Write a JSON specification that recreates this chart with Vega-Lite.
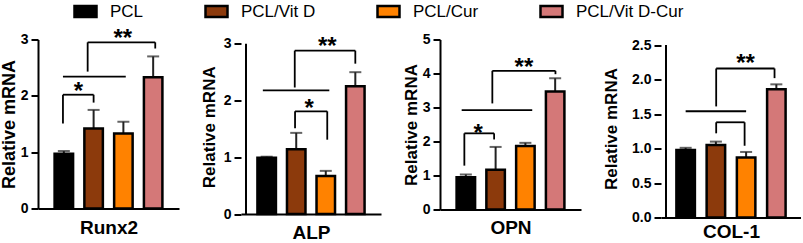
{
 "$schema": "https://vega.github.io/schema/vega-lite/v6.json",
 "padding": {"left": 0, "top": -1.5, "right": 0, "bottom": 0},
 "spacing": 21,
 "config": {
  "view": {"stroke": null},
  "font": "Liberation Sans",
  "axis": {"domainColor": "black", "domainWidth": 2, "tickColor": "black", "tickWidth": 2, "tickSize": 7, "labelFont": "Liberation Sans", "labelFontWeight": "bold", "labelFontSize": 14, "labelColor": "black", "labelPadding": 3, "titleFont": "Liberation Sans", "titleFontWeight": "bold", "titleColor": "black", "grid": false},
  "axisY": {"titleFontSize": 17},
  "axisX": {"titleFontSize": 19},
  "legend": {"labelFont": "Liberation Sans", "labelFontSize": 17, "labelColor": "black", "symbolType": "M-1,-0.5H1V0.5H-1Z", "symbolSize": 484, "symbolStrokeColor": "black", "symbolStrokeWidth": 2.5, "labelOffset": 12, "columnPadding": 56, "title": null}
 },
 "datasets": {
  "bars": [
   {"gene": "Runx2", "group": "PCL", "pos": 0, "mean": 0.97, "hi": 1.02},
   {"gene": "Runx2", "group": "PCL/Vit D", "pos": 1, "mean": 1.42, "hi": 1.75},
   {"gene": "Runx2", "group": "PCL/Cur", "pos": 2, "mean": 1.33, "hi": 1.54},
   {"gene": "Runx2", "group": "PCL/Vit D-Cur", "pos": 3, "mean": 2.33, "hi": 2.70},
   {"gene": "ALP", "group": "PCL", "pos": 0, "mean": 0.99, "hi": 1.01},
   {"gene": "ALP", "group": "PCL/Vit D", "pos": 1, "mean": 1.14, "hi": 1.43},
   {"gene": "ALP", "group": "PCL/Cur", "pos": 2, "mean": 0.67, "hi": 0.76},
   {"gene": "ALP", "group": "PCL/Vit D-Cur", "pos": 3, "mean": 2.25, "hi": 2.50},
   {"gene": "OPN", "group": "PCL", "pos": 0, "mean": 0.95, "hi": 1.03},
   {"gene": "OPN", "group": "PCL/Vit D", "pos": 1, "mean": 1.17, "hi": 1.84},
   {"gene": "OPN", "group": "PCL/Cur", "pos": 2, "mean": 1.87, "hi": 1.96},
   {"gene": "OPN", "group": "PCL/Vit D-Cur", "pos": 3, "mean": 3.47, "hi": 3.86},
   {"gene": "COL-1", "group": "PCL", "pos": 0, "mean": 0.98, "hi": 1.01},
   {"gene": "COL-1", "group": "PCL/Vit D", "pos": 1, "mean": 1.05, "hi": 1.10},
   {"gene": "COL-1", "group": "PCL/Cur", "pos": 2, "mean": 0.87, "hi": 0.95},
   {"gene": "COL-1", "group": "PCL/Vit D-Cur", "pos": 3, "mean": 1.86, "hi": 1.93}
  ],
  "brackets": [
   {"gene": "Runx2", "x": -0.03, "x2": -0.03, "y": 1.51, "y2": 2.02},
   {"gene": "Runx2", "x": -0.03, "x2": 1.0, "y": 2.02, "y2": 2.02},
   {"gene": "Runx2", "x": 1.0, "x2": 1.0, "y": 2.02, "y2": 1.88},
   {"gene": "Runx2", "x": -0.03, "x2": 2.08, "y": 2.34, "y2": 2.34},
   {"gene": "Runx2", "x": 0.8, "x2": 0.8, "y": 2.43, "y2": 2.95},
   {"gene": "Runx2", "x": 0.8, "x2": 3.07, "y": 2.95, "y2": 2.95},
   {"gene": "Runx2", "x": 3.07, "x2": 3.07, "y": 2.95, "y2": 2.84},
   {"gene": "ALP", "x": -0.13, "x2": 2.12, "y": 2.18, "y2": 2.18},
   {"gene": "ALP", "x": 0.95, "x2": 0.95, "y": 2.23, "y2": 2.88},
   {"gene": "ALP", "x": 0.95, "x2": 3.0, "y": 2.88, "y2": 2.88},
   {"gene": "ALP", "x": 3.0, "x2": 3.0, "y": 2.88, "y2": 2.65},
   {"gene": "ALP", "x": 0.96, "x2": 0.96, "y": 1.51, "y2": 1.81},
   {"gene": "ALP", "x": 0.96, "x2": 2.05, "y": 1.81, "y2": 1.81},
   {"gene": "ALP", "x": 2.05, "x2": 2.05, "y": 1.81, "y2": 1.31},
   {"gene": "OPN", "x": -0.05, "x2": -0.05, "y": 1.29, "y2": 2.24},
   {"gene": "OPN", "x": -0.05, "x2": 0.95, "y": 2.24, "y2": 2.24},
   {"gene": "OPN", "x": 0.95, "x2": 0.95, "y": 2.24, "y2": 2.06},
   {"gene": "OPN", "x": -0.14, "x2": 2.23, "y": 2.92, "y2": 2.92},
   {"gene": "OPN", "x": 0.89, "x2": 0.89, "y": 3.12, "y2": 4.08},
   {"gene": "OPN", "x": 0.89, "x2": 3.01, "y": 4.08, "y2": 4.08},
   {"gene": "OPN", "x": 3.01, "x2": 3.01, "y": 4.08, "y2": 3.98},
   {"gene": "COL-1", "x": 0.0, "x2": 2.0, "y": 1.54, "y2": 1.54},
   {"gene": "COL-1", "x": 1.01, "x2": 1.01, "y": 1.61, "y2": 2.16},
   {"gene": "COL-1", "x": 1.01, "x2": 2.94, "y": 2.16, "y2": 2.16},
   {"gene": "COL-1", "x": 2.94, "x2": 2.94, "y": 2.16, "y2": 2.02},
   {"gene": "COL-1", "x": 1.01, "x2": 1.01, "y": 1.22, "y2": 1.38},
   {"gene": "COL-1", "x": 1.01, "x2": 1.95, "y": 1.38, "y2": 1.38},
   {"gene": "COL-1", "x": 1.95, "x2": 1.95, "y": 1.38, "y2": 1.04}
  ],
  "stars": [
   {"gene": "Runx2", "x": 0.49, "y": 2.18, "label": "*"},
   {"gene": "Runx2", "x": 1.98, "y": 3.12, "label": "**"},
   {"gene": "ALP", "x": 1.44, "y": 1.95, "label": "*"},
   {"gene": "ALP", "x": 2.05, "y": 3.05, "label": "**"},
   {"gene": "OPN", "x": 0.41, "y": 2.39, "label": "*"},
   {"gene": "OPN", "x": 1.95, "y": 4.35, "label": "**"},
   {"gene": "COL-1", "x": 1.98, "y": 2.31, "label": "**"}
  ]
 },
 "hconcat": [
  {
   "width": 141, "height": 169,
   "layer": [
    {"data": {"name": "bars"}, "transform": [{"filter": "datum.gene === 'Runx2'"}],
     "mark": {"type": "rule", "color": "#222", "strokeWidth": 2},
     "encoding": {
      "x": {"field": "pos", "type": "quantitative", "scale": {"domain": [-0.7, 3.7], "nice": false, "zero": false}, "axis": {"labels": false, "ticks": false, "title": "Runx2", "titlePadding": 9.5}},
      "y": {"field": "mean", "type": "quantitative", "scale": {"domain": [0, 3], "nice": false}, "axis": {"values": [0, 1, 2, 3], "title": "Relative mRNA", "titlePadding": 2, "titleFontSize": 18}},
      "y2": {"field": "hi"}}},
    {"data": {"name": "bars"}, "transform": [{"filter": "datum.gene === 'Runx2'"}],
     "mark": {"type": "tick", "orient": "horizontal", "color": "#222", "size": 12, "thickness": 2},
     "encoding": {
      "x": {"field": "pos", "type": "quantitative", "scale": {"domain": [-0.7, 3.7], "nice": false, "zero": false}, "axis": {"labels": false, "ticks": false, "title": "Runx2", "titlePadding": 9.5}},
      "y": {"field": "hi", "type": "quantitative", "scale": {"domain": [0, 3], "nice": false}, "axis": {"values": [0, 1, 2, 3], "title": "Relative mRNA", "titlePadding": 2, "titleFontSize": 18}}}},
    {"data": {"name": "bars"}, "transform": [{"filter": "datum.gene === 'Runx2'"}],
     "mark": {"type": "bar", "orient": "vertical", "size": 18.5, "stroke": "black", "strokeWidth": 2.5},
     "encoding": {
      "x": {"field": "pos", "type": "quantitative", "scale": {"domain": [-0.7, 3.7], "nice": false, "zero": false}, "axis": {"labels": false, "ticks": false, "title": "Runx2", "titlePadding": 9.5}},
      "y": {"field": "mean", "type": "quantitative", "scale": {"domain": [0, 3], "nice": false}, "axis": {"values": [0, 1, 2, 3], "title": "Relative mRNA", "titlePadding": 2, "titleFontSize": 18}},
      "color": {"field": "group", "type": "nominal", "scale": {"domain": ["PCL", "PCL/Vit D", "PCL/Cur", "PCL/Vit D-Cur"], "range": ["#000000", "#8C3A0C", "#FF8200", "#D47878"]}, "legend": {"orient": "none", "direction": "horizontal", "legendX": 35, "legendY": -40.5}}}},
    {"data": {"name": "brackets"}, "transform": [{"filter": "datum.gene === 'Runx2'"}],
     "mark": {"type": "rule", "color": "black", "strokeWidth": 1.8},
     "encoding": {
      "x": {"field": "x", "type": "quantitative", "scale": {"domain": [-0.7, 3.7], "nice": false, "zero": false}, "axis": {"labels": false, "ticks": false, "title": "Runx2", "titlePadding": 9.5}},
      "x2": {"field": "x2"},
      "y": {"field": "y", "type": "quantitative", "scale": {"domain": [0, 3], "nice": false}, "axis": {"values": [0, 1, 2, 3], "title": "Relative mRNA", "titlePadding": 2, "titleFontSize": 18}},
      "y2": {"field": "y2"}}},
    {"data": {"name": "stars"}, "transform": [{"filter": "datum.gene === 'Runx2'"}],
     "mark": {"type": "text", "fontSize": 24, "fontWeight": "bold", "baseline": "middle", "align": "center", "dy": 6, "color": "black"},
     "encoding": {
      "x": {"field": "x", "type": "quantitative", "scale": {"domain": [-0.7, 3.7], "nice": false, "zero": false}, "axis": {"labels": false, "ticks": false, "title": "Runx2", "titlePadding": 9.5}},
      "y": {"field": "y", "type": "quantitative", "scale": {"domain": [0, 3], "nice": false}, "axis": {"values": [0, 1, 2, 3], "title": "Relative mRNA", "titlePadding": 2, "titleFontSize": 18}},
      "text": {"field": "label"}}}
   ]
  },
  {
   "width": 140, "height": 174.5,
   "layer": [
    {"data": {"values": [{}]},
     "mark": {"type": "rule", "color": "black", "strokeWidth": 2},
     "encoding": {
      "x": {"datum": -0.7, "type": "quantitative", "scale": {"domain": [-0.7, 3.7], "nice": false, "zero": false}, "axis": {"labels": false, "ticks": false, "title": "ALP", "titlePadding": 9.5}},
      "y": {"datum": 0, "type": "quantitative", "scale": {"domain": [0, 3.076], "nice": false}, "axis": {"values": [0, 1, 2, 3], "domain": false, "title": "Relative mRNA", "titlePadding": 5}},
      "y2": {"datum": 3}}},
    {"data": {"name": "bars"}, "transform": [{"filter": "datum.gene === 'ALP'"}],
     "mark": {"type": "rule", "color": "#222", "strokeWidth": 2},
     "encoding": {
      "x": {"field": "pos", "type": "quantitative", "scale": {"domain": [-0.7, 3.7], "nice": false, "zero": false}, "axis": {"labels": false, "ticks": false, "title": "ALP", "titlePadding": 9.5}},
      "y": {"field": "mean", "type": "quantitative", "scale": {"domain": [0, 3.076], "nice": false}, "axis": {"values": [0, 1, 2, 3], "domain": false, "title": "Relative mRNA", "titlePadding": 5}},
      "y2": {"field": "hi"}}},
    {"data": {"name": "bars"}, "transform": [{"filter": "datum.gene === 'ALP'"}],
     "mark": {"type": "tick", "orient": "horizontal", "color": "#222", "size": 12, "thickness": 2},
     "encoding": {
      "x": {"field": "pos", "type": "quantitative", "scale": {"domain": [-0.7, 3.7], "nice": false, "zero": false}, "axis": {"labels": false, "ticks": false, "title": "ALP", "titlePadding": 9.5}},
      "y": {"field": "hi", "type": "quantitative", "scale": {"domain": [0, 3.076], "nice": false}, "axis": {"values": [0, 1, 2, 3], "domain": false, "title": "Relative mRNA", "titlePadding": 5}}}},
    {"data": {"name": "bars"}, "transform": [{"filter": "datum.gene === 'ALP'"}],
     "mark": {"type": "bar", "orient": "vertical", "size": 18.5, "stroke": "black", "strokeWidth": 2.5},
     "encoding": {
      "x": {"field": "pos", "type": "quantitative", "scale": {"domain": [-0.7, 3.7], "nice": false, "zero": false}, "axis": {"labels": false, "ticks": false, "title": "ALP", "titlePadding": 9.5}},
      "y": {"field": "mean", "type": "quantitative", "scale": {"domain": [0, 3.076], "nice": false}, "axis": {"values": [0, 1, 2, 3], "domain": false, "title": "Relative mRNA", "titlePadding": 5}},
      "color": {"field": "group", "type": "nominal", "scale": {"domain": ["PCL", "PCL/Vit D", "PCL/Cur", "PCL/Vit D-Cur"], "range": ["#000000", "#8C3A0C", "#FF8200", "#D47878"]}, "legend": {"orient": "none", "direction": "horizontal", "legendX": 35, "legendY": -40.5}}}},
    {"data": {"name": "brackets"}, "transform": [{"filter": "datum.gene === 'ALP'"}],
     "mark": {"type": "rule", "color": "black", "strokeWidth": 1.8},
     "encoding": {
      "x": {"field": "x", "type": "quantitative", "scale": {"domain": [-0.7, 3.7], "nice": false, "zero": false}, "axis": {"labels": false, "ticks": false, "title": "ALP", "titlePadding": 9.5}},
      "x2": {"field": "x2"},
      "y": {"field": "y", "type": "quantitative", "scale": {"domain": [0, 3.076], "nice": false}, "axis": {"values": [0, 1, 2, 3], "domain": false, "title": "Relative mRNA", "titlePadding": 5}},
      "y2": {"field": "y2"}}},
    {"data": {"name": "stars"}, "transform": [{"filter": "datum.gene === 'ALP'"}],
     "mark": {"type": "text", "fontSize": 24, "fontWeight": "bold", "baseline": "middle", "align": "center", "dy": 6, "color": "black"},
     "encoding": {
      "x": {"field": "x", "type": "quantitative", "scale": {"domain": [-0.7, 3.7], "nice": false, "zero": false}, "axis": {"labels": false, "ticks": false, "title": "ALP", "titlePadding": 9.5}},
      "y": {"field": "y", "type": "quantitative", "scale": {"domain": [0, 3.076], "nice": false}, "axis": {"values": [0, 1, 2, 3], "domain": false, "title": "Relative mRNA", "titlePadding": 5}},
      "text": {"field": "label"}}}
   ]
  },
  {
   "width": 141, "height": 170,
   "layer": [
    {"data": {"name": "bars"}, "transform": [{"filter": "datum.gene === 'OPN'"}],
     "mark": {"type": "rule", "color": "#222", "strokeWidth": 2},
     "encoding": {
      "x": {"field": "pos", "type": "quantitative", "scale": {"domain": [-0.7, 3.7], "nice": false, "zero": false}, "axis": {"labels": false, "ticks": false, "title": "OPN", "titlePadding": 8.5}},
      "y": {"field": "mean", "type": "quantitative", "scale": {"domain": [0, 5], "nice": false}, "axis": {"values": [0, 1, 2, 3, 4, 5], "title": "Relative mRNA", "titlePadding": 2}},
      "y2": {"field": "hi"}}},
    {"data": {"name": "bars"}, "transform": [{"filter": "datum.gene === 'OPN'"}],
     "mark": {"type": "tick", "orient": "horizontal", "color": "#222", "size": 12, "thickness": 2},
     "encoding": {
      "x": {"field": "pos", "type": "quantitative", "scale": {"domain": [-0.7, 3.7], "nice": false, "zero": false}, "axis": {"labels": false, "ticks": false, "title": "OPN", "titlePadding": 8.5}},
      "y": {"field": "hi", "type": "quantitative", "scale": {"domain": [0, 5], "nice": false}, "axis": {"values": [0, 1, 2, 3, 4, 5], "title": "Relative mRNA", "titlePadding": 2}}}},
    {"data": {"name": "bars"}, "transform": [{"filter": "datum.gene === 'OPN'"}],
     "mark": {"type": "bar", "orient": "vertical", "size": 18.5, "stroke": "black", "strokeWidth": 2.5},
     "encoding": {
      "x": {"field": "pos", "type": "quantitative", "scale": {"domain": [-0.7, 3.7], "nice": false, "zero": false}, "axis": {"labels": false, "ticks": false, "title": "OPN", "titlePadding": 8.5}},
      "y": {"field": "mean", "type": "quantitative", "scale": {"domain": [0, 5], "nice": false}, "axis": {"values": [0, 1, 2, 3, 4, 5], "title": "Relative mRNA", "titlePadding": 2}},
      "color": {"field": "group", "type": "nominal", "scale": {"domain": ["PCL", "PCL/Vit D", "PCL/Cur", "PCL/Vit D-Cur"], "range": ["#000000", "#8C3A0C", "#FF8200", "#D47878"]}, "legend": {"orient": "none", "direction": "horizontal", "legendX": 35, "legendY": -40.5}}}},
    {"data": {"name": "brackets"}, "transform": [{"filter": "datum.gene === 'OPN'"}],
     "mark": {"type": "rule", "color": "black", "strokeWidth": 1.8},
     "encoding": {
      "x": {"field": "x", "type": "quantitative", "scale": {"domain": [-0.7, 3.7], "nice": false, "zero": false}, "axis": {"labels": false, "ticks": false, "title": "OPN", "titlePadding": 8.5}},
      "x2": {"field": "x2"},
      "y": {"field": "y", "type": "quantitative", "scale": {"domain": [0, 5], "nice": false}, "axis": {"values": [0, 1, 2, 3, 4, 5], "title": "Relative mRNA", "titlePadding": 2}},
      "y2": {"field": "y2"}}},
    {"data": {"name": "stars"}, "transform": [{"filter": "datum.gene === 'OPN'"}],
     "mark": {"type": "text", "fontSize": 24, "fontWeight": "bold", "baseline": "middle", "align": "center", "dy": 6, "color": "black"},
     "encoding": {
      "x": {"field": "x", "type": "quantitative", "scale": {"domain": [-0.7, 3.7], "nice": false, "zero": false}, "axis": {"labels": false, "ticks": false, "title": "OPN", "titlePadding": 8.5}},
      "y": {"field": "y", "type": "quantitative", "scale": {"domain": [0, 5], "nice": false}, "axis": {"values": [0, 1, 2, 3, 4, 5], "title": "Relative mRNA", "titlePadding": 2}},
      "text": {"field": "label"}}}
   ]
  },
  {
   "width": 140, "height": 178,
   "layer": [
    {"data": {"values": [{}]},
     "mark": {"type": "rule", "color": "black", "strokeWidth": 2},
     "encoding": {
      "x": {"datum": -0.65, "type": "quantitative", "scale": {"domain": [-0.65, 3.65], "nice": false, "zero": false}, "axis": {"labels": false, "ticks": false, "title": "COL-1", "titlePadding": 5}},
      "y": {"datum": 0, "type": "quantitative", "scale": {"domain": [0, 2.58], "nice": false}, "axis": {"values": [0, 0.5, 1, 1.5, 2, 2.5], "format": ".1f", "domain": false, "title": "Relative mRNA", "titlePadding": 11.5}},
      "y2": {"datum": 2.5}}},
    {"data": {"name": "bars"}, "transform": [{"filter": "datum.gene === 'COL-1'"}],
     "mark": {"type": "rule", "color": "#222", "strokeWidth": 2},
     "encoding": {
      "x": {"field": "pos", "type": "quantitative", "scale": {"domain": [-0.65, 3.65], "nice": false, "zero": false}, "axis": {"labels": false, "ticks": false, "title": "COL-1", "titlePadding": 5}},
      "y": {"field": "mean", "type": "quantitative", "scale": {"domain": [0, 2.58], "nice": false}, "axis": {"values": [0, 0.5, 1, 1.5, 2, 2.5], "format": ".1f", "domain": false, "title": "Relative mRNA", "titlePadding": 11.5}},
      "y2": {"field": "hi"}}},
    {"data": {"name": "bars"}, "transform": [{"filter": "datum.gene === 'COL-1'"}],
     "mark": {"type": "tick", "orient": "horizontal", "color": "#222", "size": 12, "thickness": 2},
     "encoding": {
      "x": {"field": "pos", "type": "quantitative", "scale": {"domain": [-0.65, 3.65], "nice": false, "zero": false}, "axis": {"labels": false, "ticks": false, "title": "COL-1", "titlePadding": 5}},
      "y": {"field": "hi", "type": "quantitative", "scale": {"domain": [0, 2.58], "nice": false}, "axis": {"values": [0, 0.5, 1, 1.5, 2, 2.5], "format": ".1f", "domain": false, "title": "Relative mRNA", "titlePadding": 11.5}}}},
    {"data": {"name": "bars"}, "transform": [{"filter": "datum.gene === 'COL-1'"}],
     "mark": {"type": "bar", "orient": "vertical", "size": 18.5, "stroke": "black", "strokeWidth": 2.5},
     "encoding": {
      "x": {"field": "pos", "type": "quantitative", "scale": {"domain": [-0.65, 3.65], "nice": false, "zero": false}, "axis": {"labels": false, "ticks": false, "title": "COL-1", "titlePadding": 5}},
      "y": {"field": "mean", "type": "quantitative", "scale": {"domain": [0, 2.58], "nice": false}, "axis": {"values": [0, 0.5, 1, 1.5, 2, 2.5], "format": ".1f", "domain": false, "title": "Relative mRNA", "titlePadding": 11.5}},
      "color": {"field": "group", "type": "nominal", "scale": {"domain": ["PCL", "PCL/Vit D", "PCL/Cur", "PCL/Vit D-Cur"], "range": ["#000000", "#8C3A0C", "#FF8200", "#D47878"]}, "legend": {"orient": "none", "direction": "horizontal", "legendX": 35, "legendY": -40.5}}}},
    {"data": {"name": "brackets"}, "transform": [{"filter": "datum.gene === 'COL-1'"}],
     "mark": {"type": "rule", "color": "black", "strokeWidth": 1.8},
     "encoding": {
      "x": {"field": "x", "type": "quantitative", "scale": {"domain": [-0.65, 3.65], "nice": false, "zero": false}, "axis": {"labels": false, "ticks": false, "title": "COL-1", "titlePadding": 5}},
      "x2": {"field": "x2"},
      "y": {"field": "y", "type": "quantitative", "scale": {"domain": [0, 2.58], "nice": false}, "axis": {"values": [0, 0.5, 1, 1.5, 2, 2.5], "format": ".1f", "domain": false, "title": "Relative mRNA", "titlePadding": 11.5}},
      "y2": {"field": "y2"}}},
    {"data": {"name": "stars"}, "transform": [{"filter": "datum.gene === 'COL-1'"}],
     "mark": {"type": "text", "fontSize": 24, "fontWeight": "bold", "baseline": "middle", "align": "center", "dy": 6, "color": "black"},
     "encoding": {
      "x": {"field": "x", "type": "quantitative", "scale": {"domain": [-0.65, 3.65], "nice": false, "zero": false}, "axis": {"labels": false, "ticks": false, "title": "COL-1", "titlePadding": 5}},
      "y": {"field": "y", "type": "quantitative", "scale": {"domain": [0, 2.58], "nice": false}, "axis": {"values": [0, 0.5, 1, 1.5, 2, 2.5], "format": ".1f", "domain": false, "title": "Relative mRNA", "titlePadding": 11.5}},
      "text": {"field": "label"}}}
   ]
  }
 ]
}
